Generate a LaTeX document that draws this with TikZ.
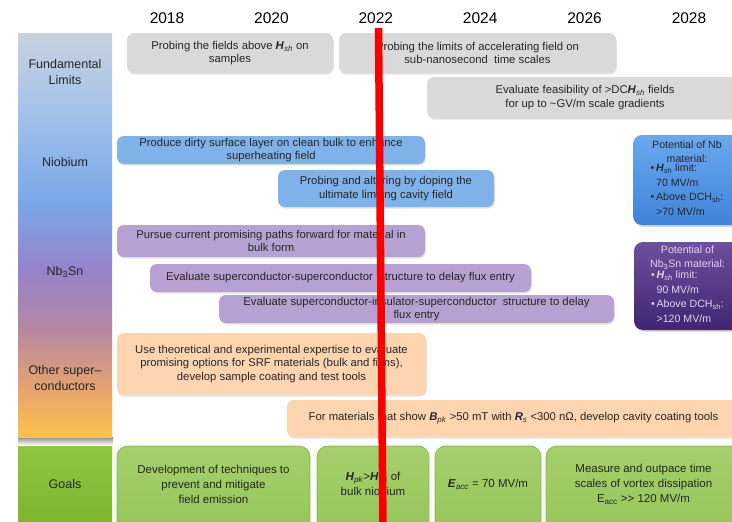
\documentclass[tikz,border=0pt]{standalone}
\usepackage{fontspec}
\setmainfont{Liberation Sans}
\usetikzlibrary{shadows}
\definecolor{limgray}{HTML}{D9D9D9}
\definecolor{nbblue}{HTML}{80B2EA}
\definecolor{snlilac}{HTML}{B6A1D2}
\definecolor{othpeach}{HTML}{FCD5B0}
\definecolor{goalgreen}{HTML}{A6CF6D}
\definecolor{goalgreenlo}{HTML}{94C457}
\definecolor{goalline}{HTML}{88B84B}
\definecolor{catgreen}{HTML}{8DC63F}
\definecolor{catgreenlo}{HTML}{7BB52F}
\definecolor{nbdeep}{HTML}{3F84DA}
\definecolor{nbdeeptop}{HTML}{6AA8EE}
\definecolor{sndeep}{HTML}{3F2572}
\definecolor{sndeeptop}{HTML}{6E4F9E}
\definecolor{nowred}{HTML}{F60000}
\newcommand\Hsub[2]{\textbf{\textit{#1}}\textsubscript{\textit{#2}}}
\tikzset{
  every node/.style={font=\fontsize{11.3}{13.5}\selectfont,text=black!85},
  year/.style={font=\fontsize{15.5}{16}\selectfont,text=black},
  catlabel/.style={font=\fontsize{12.5}{15.5}\selectfont,align=center},
  bar/.style={rounded corners=7pt,align=center,inner sep=1pt,outer sep=0pt,
    drop shadow={opacity=.22,shadow xshift=.8pt,shadow yshift=-1.6pt}},
  limbar/.style={bar,fill=limgray},
  nbbar/.style={bar,fill=nbblue},
  snbar/.style={bar,fill=snlilac},
  othbar/.style={bar,fill=othpeach},
  potbox/.style={rounded corners=9pt,align=center,inner sep=1pt,
    font=\fontsize{10.6}{14.5}\selectfont,
    drop shadow={opacity=.3,shadow xshift=1pt,shadow yshift=-1.8pt}},
  goalbox/.style={draw=goalline,line width=.8pt,rounded corners=11pt,
    top color=goalgreen,bottom color=goalgreenlo},
  goaltext/.style={align=center,font=\fontsize{11.5}{15}\selectfont},
  nowline/.style={draw=nowred,line width=7.5pt}
}
\begin{document}
\begin{tikzpicture}[x=1pt,y=-1pt]
\clip (0,0) rectangle (732,522);
\fill[white] (0,0) rectangle (732,522);
\foreach \yr [count=\i from 0] in {2018,2020,2022,2024,2026,2028}
  \node[year] (y\yr) at (167+104.4*\i,18) {\yr};
% category column
\shade[top color=black!45,bottom color=black!6] (18,437) rectangle (113,444);
\shade[top color={rgb,255:red,200;green,210;blue,222},bottom color={rgb,255:red,164;green,194;blue,234}] (18,33) rectangle (112,110.5);
\shade[top color={rgb,255:red,164;green,194;blue,234},bottom color={rgb,255:red,122;green,168;blue,232}] (18,110) rectangle (112,200.5);
\shade[top color={rgb,255:red,122;green,168;blue,232},bottom color={rgb,255:red,150;green,130;blue,202}] (18,200) rectangle (112,270.5);
\shade[top color={rgb,255:red,150;green,130;blue,202},bottom color={rgb,255:red,182;green,136;blue,160}] (18,270) rectangle (112,330.5);
\shade[top color={rgb,255:red,182;green,136;blue,160},bottom color={rgb,255:red,232;green,164;blue,110}] (18,330) rectangle (112,390.5);
\shade[top color={rgb,255:red,232;green,164;blue,110},bottom color={rgb,255:red,252;green,194;blue,74}] (18,390) rectangle (112,437);
\shade[top color=catgreen,bottom color=catgreenlo] (18,446) rectangle (112,530);
\node[catlabel] (catlim) at (65,72) {Fundamental\\Limits};
\node[catlabel] (catnb) at (65,162) {Niobium};
\node[catlabel] (catsn) at (65,272) {Nb\textsubscript{3}Sn};
\node[catlabel] (catoth) at (65,378) {Other super–\\conductors};
\node[catlabel] (catgoal) at (65,484) {Goals};
% fundamental limits
\node[limbar,minimum width=206,minimum height=40] (lim1) at (230,53) {Probing the fields above \Hsub{H}{sh} on\\samples};
\node[limbar,minimum width=277,minimum height=40] (lim2) at (477.5,53) {Probing the limits of accelerating field on\\sub-nanosecond\ \ time scales};
\node[limbar,minimum width=316,minimum height=41] (lim3) at (585,97.5) {Evaluate feasibility of >DC\Hsub{H}{sh} fields\\for up to \textasciitilde GV/m scale gradients};
% niobium
\node[nbbar,minimum width=308,minimum height=28] (nb1) at (271,150) {Produce dirty surface layer on clean bulk to enhance\\superheating field};
\node[nbbar,minimum width=216,minimum height=37] (nb2) at (386,188.5) {Probing and altering by doping the\\ultimate limiting cavity field};
% Nb3Sn
\node[snbar,minimum width=308,minimum height=32] (sn1) at (271,241) {Pursue current promising paths forward for material in\\bulk form};
\node[snbar,minimum width=381,minimum height=28] (sn2) at (340.5,278) {Evaluate superconductor-superconductor\ \ structure to delay flux entry};
\node[snbar,minimum width=395,minimum height=28] (sn3) at (416.5,309) {Evaluate superconductor-insulator-superconductor\ \ structure to delay\\flux entry};
% other superconductors
\node[othbar,minimum width=309,minimum height=62] (oth1) at (271.5,364) {Use theoretical and experimental expertise to evaluate\\promising options for SRF materials (bulk and films),\\develop sample coating and test tools};
\node[othbar,minimum width=453,minimum height=37] (oth2) at (513.5,418.5) {For materials that show \Hsub{B}{pk} >50 mT with \Hsub{R}{s} <300 nΩ, develop cavity coating tools};
% material potential
\node[potbox,top color=nbdeeptop,bottom color=nbdeep,minimum width=108,minimum height=90] (nbpot) at (687,180)
  {Potential of Nb\\material:\\[-2pt]\begin{tabular}{@{}l@{\,}l@{}}•&\Hsub{H}{sh} limit:\\&70 MV/m\\•&Above DCH\textsubscript{sh}:\\&>70 MV/m\end{tabular}};
\node[potbox,top color=sndeeptop,bottom color=sndeep,text={rgb,255:red,222;green,214;blue,236},minimum width=107,minimum height=88] (snpot) at (687.5,286)
  {Potential of\\Nb\textsubscript{3}Sn material:\\[-2pt]\begin{tabular}{@{}l@{\,}l@{}}•&\Hsub{H}{sh} limit:\\&90 MV/m\\•&Above DCH\textsubscript{sh}:\\&>120 MV/m\end{tabular}};
% goals
\draw[goalbox] (117,446) rectangle (310,540);
\draw[goalbox] (317,446) rectangle (429,540);
\draw[goalbox] (435,446) rectangle (541,540);
\draw[goalbox] (546,446) rectangle (745,540);
\node[goaltext] (g1) at (213.5,484) {Development of techniques to\\prevent and mitigate\\field emission};
\node[goaltext] (g2) at (373,484) {\Hsub{H}{pk}>\Hsub{H}{sh} of\\bulk niobium};
\node[goaltext] (g3) at (488,484) {\Hsub{E}{acc} = 70 MV/m};
\node[goaltext] (g4) at (643.5,484) {Measure and outpace time\\scales of vortex dissipation\\E\textsubscript{acc} >\kern0pt> 120 MV/m};
% today
\coordinate (nowtop) at (378.5,28);
\coordinate (nowbot) at (383,526);
\draw[nowline] (nowtop) -- (nowbot);
\end{tikzpicture}
\end{document}
